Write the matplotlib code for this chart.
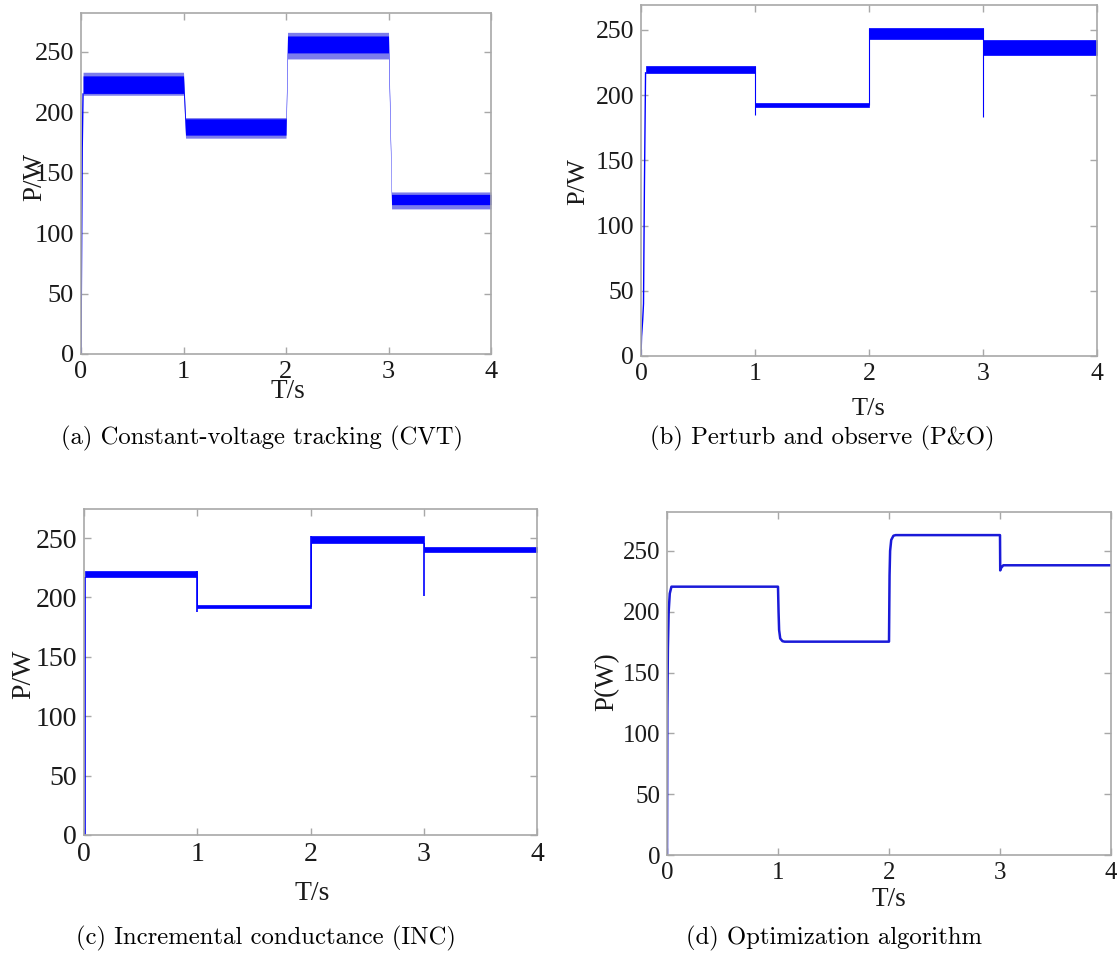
import matplotlib
matplotlib.use("Agg")
import matplotlib.pyplot as plt
import numpy as np

W, H = 1117, 967

# ---------------- data ----------------
x_ticks = [0, 1, 2, 3, 4]
y_ticks = [0, 50, 100, 150, 200, 250]

# (a) CVT: oscillation band envelopes
cvt_t = [0.02, 1.00, 1.02, 2.00, 2.015, 3.00, 3.03, 4.00]
cvt_outer_lo = [214, 214, 178.5, 178.5, 244, 244, 120, 120]
cvt_outer_hi = [233, 233, 195.5, 195.5, 266, 266, 134, 134]
cvt_inner_lo = [215.5, 215.5, 181, 181, 249, 249, 123.5, 123.5]
cvt_inner_hi = [230, 230, 194.5, 194.5, 263, 263, 132, 132]
cvt_rise_t = [0.0, 0.004, 0.012, 0.02]
cvt_rise_p = [0, 60, 170, 215]

# (b) P&O
po_t = [0.04, 1.0, 1.0, 2.0, 2.0, 3.0, 3.0, 4.0]
po_lo = [217, 217, 190.5, 190.5, 243, 243, 231, 231]
po_hi = [222, 222, 194, 194, 251.5, 251.5, 242, 242]
po_rise_t = [0.0, 0.005, 0.015, 0.022, 0.03, 0.04]
po_rise_p = [0, 15, 28, 40, 130, 217]
po_jump_t = [1.0, 2.0, 3.0]
po_jump_lo = [185, 192, 183]
po_jump_hi = [222, 251, 251]

# (c) INC
inc_t = [0.01, 1.0, 1.0, 2.0, 2.0, 3.0, 3.0, 4.0]
inc_lo = [217.5, 217.5, 191.5, 191.5, 246, 246, 238.7, 238.7]
inc_hi = [222.5, 222.5, 194, 194, 252, 252, 242.4, 242.4]
inc_jump_t = [0.005, 1.0, 2.0, 3.0]
inc_jump_lo = [0, 188, 192, 201]
inc_jump_hi = [217.5, 222, 252, 246]

# (d) optimization algorithm
opt_t = [0, 0.003, 0.008, 0.015, 0.025, 0.04, 1.0, 1.005, 1.01, 1.02, 1.04, 1.06,
         2.0, 2.005, 2.01, 2.02, 2.04, 2.06, 3.0, 3.002, 3.01, 3.03, 4.0]
opt_p = [0, 120, 170, 200, 215, 220.6, 220.6, 200, 185, 178, 175.8, 175.4,
         175.4, 230, 250, 259, 262.5, 263, 263, 234, 236, 238.2, 238.2]

captions = ["(a) Constant-voltage tracking (CVT)",
            "(b) Perturb and observe (P&O)",
            "(c) Incremental conductance (INC)",
            "(d) Optimization algorithm"]
ylabels = ["P/W", "P/W", "P/W", "P(W)"]
xlabel = "T/s"

# ---------------- layout (pixels) ----------------
panels = [
    dict(l=81, r=491, t=13, b=354, ymax=282, tfs=19, lfs=19.5, ylab=(35, 177), xlab=(288, 392), cap=(262, 438)),
    dict(l=641, r=1097, t=5, b=356, ymax=269, tfs=18.5, lfs=19, ylab=(578, 182), xlab=(869, 409), cap=(822, 438)),
    dict(l=84, r=537, t=509, b=835, ymax=274.5, tfs=20, lfs=20, ylab=(24, 674), xlab=(312, 893), cap=(266, 938)),
    dict(l=667, r=1111, t=512, b=855, ymax=282, tfs=18, lfs=19.5, ylab=(607, 682), xlab=(889, 900), cap=(834, 938)),
]

BLUE = "#0000ff"
LIGHT = "#7c7cec"
SPINE = "#a8a8a8"

fig = plt.figure(figsize=(W / 100, H / 100), dpi=100)
fig.patch.set_facecolor("white")

axes = []
for p in panels:
    ax = fig.add_axes([p["l"] / W, 1 - p["b"] / H, (p["r"] - p["l"]) / W, (p["b"] - p["t"]) / H])
    ax.set_xlim(0, 4)
    ax.set_ylim(0, p["ymax"])
    ax.set_xticks(x_ticks)
    ax.set_yticks(y_ticks)
    ax.tick_params(direction="in", top=True, right=True, length=5, width=1,
                   color=SPINE, labelsize=p["tfs"], labelcolor="#1a1a1a", pad=5)
    for lab in ax.get_xticklabels() + ax.get_yticklabels():
        lab.set_fontfamily("Liberation Serif")
    for s in ax.spines.values():
        s.set_color(SPINE)
        s.set_linewidth(1.2)
    axes.append(ax)

# (a)
ax = axes[0]
ax.fill_between(cvt_t, cvt_outer_lo, cvt_outer_hi, color=LIGHT, lw=0)
ax.fill_between(cvt_t, cvt_inner_lo, cvt_inner_hi, color=BLUE, lw=0)
ax.plot(cvt_rise_t, cvt_rise_p, color=BLUE, lw=1)

# (b)
ax = axes[1]
ax.fill_between(po_t, po_lo, po_hi, color=BLUE, lw=0.5, edgecolor=BLUE)
ax.plot(po_rise_t, po_rise_p, color=BLUE, lw=1)
ax.vlines(po_jump_t, po_jump_lo, po_jump_hi, color=BLUE, lw=0.8)

# (c)
ax = axes[2]
ax.fill_between(inc_t, inc_lo, inc_hi, color=BLUE, lw=0.5, edgecolor=BLUE)
ax.vlines(inc_jump_t, inc_jump_lo, inc_jump_hi, color=BLUE, lw=1.2)

# (d)
ax = axes[3]
ax.plot(opt_t, opt_p, color="#1a1ad8", lw=1.8)

# labels and captions
for ax, p, yl, cap in zip(axes, panels, ylabels, captions):
    fig.text(p["ylab"][0] / W, 1 - p["ylab"][1] / H, yl, rotation=90, ha="center", va="center",
             fontsize=p["lfs"], family="Liberation Serif", color="#1a1a1a")
    fig.text(p["xlab"][0] / W, 1 - p["xlab"][1] / H, xlabel, ha="center", va="center",
             fontsize=p["lfs"], family="Liberation Serif", color="#1a1a1a")
    fig.text(p["cap"][0] / W, 1 - p["cap"][1] / H, cap, ha="center", va="center",
             fontsize=17.8, family="cmr10", color="black")

fig.savefig("out.png", dpi=100, facecolor="white")
